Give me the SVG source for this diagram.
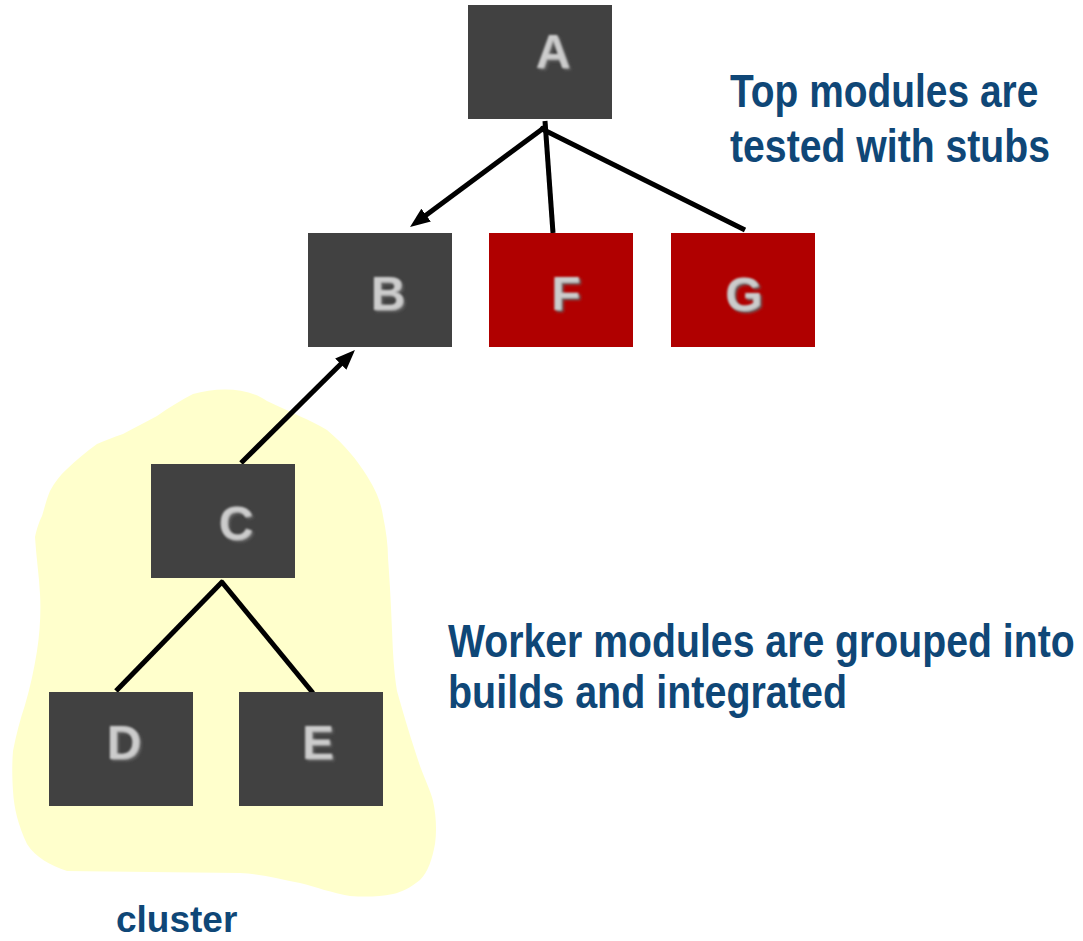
<svg xmlns="http://www.w3.org/2000/svg" width="1083" height="941" viewBox="0 0 1083 941">
  <style>
    .box { fill: #414141; }
    .stub { fill: #b00000; }
    .lbl { font-family: "Liberation Sans", Arial, sans-serif; font-weight: bold; font-size: 48px; fill: #cccccc; text-anchor: middle; filter: url(#soft); }
    .note { font-family: "Liberation Sans", Arial, sans-serif; font-weight: bold; font-size: 46px; fill: #0f4777; }
    .edge { stroke: #000; stroke-width: 5; fill: none; }
  </style>
  <defs>
    <filter id="soft" x="-30%" y="-30%" width="160%" height="160%">
      <feGaussianBlur in="SourceAlpha" stdDeviation="1.5" result="b"/>
      <feOffset in="b" dx="1.5" dy="2" result="o"/>
      <feFlood flood-color="#6a6a6a"/>
      <feComposite in2="o" operator="in" result="sh"/>
      <feGaussianBlur in="SourceGraphic" stdDeviation="0.8" result="g"/>
      <feMerge>
        <feMergeNode in="sh"/>
        <feMergeNode in="g"/>
      </feMerge>
    </filter>
    <marker id="arrow" viewBox="0 0 20 16" refX="4" refY="8" markerWidth="20" markerHeight="16" markerUnits="userSpaceOnUse" orient="auto">
      <path d="M0,0 L20,8 L0,16 Z" fill="#000"/>
    </marker>
  </defs>

  <!-- cluster outline behind the worker modules -->
  <path id="cluster-area" fill="#ffffcc" d="M193,394 C215,388 245,386 267,401 C290,412 310,420 327,430 C345,445 357,460 367,476 C377,492 381,503 383,516 C386,530 388,545 388,558 C390,585 391,605 392,630 C393,655 394,672 397,691 C405,720 413,745 420,766 C426,782 431,792 433,801 C436,815 437,830 435,844 C432,860 428,872 420,880 C410,888 402,892 393,894 C378,897 365,897 350,896 C332,893 316,887 300,883 C280,879 262,874 240,873 C180,872 120,872 67,871 C50,865 36,858 27,844 C18,825 14,808 13,791 C12,776 12,764 13,751 C16,735 20,720 25,705 C30,688 34,670 37,651 C40,632 41,612 40,594 C39,575 36,555 35,537 C37,528 39,522 42,516 C45,506 47,498 50,491 C55,482 60,475 67,469 C76,460 86,452 97,444 C106,440 114,437 123,434 C134,428 146,422 157,416 C170,407 181,400 193,394 Z"/>

  <!-- connectors -->
  <g id="connectors">
    <line class="edge" x1="545" y1="127" x2="422.9" y2="217.5" marker-end="url(#arrow)"/>
    <line class="edge" x1="545" y1="121" x2="553" y2="233"/>
    <line class="edge" x1="540" y1="128" x2="745" y2="230"/>
    <line class="edge" x1="241" y1="463" x2="343.6" y2="361.3" marker-end="url(#arrow)"/>
    <line class="edge" x1="223" y1="581" x2="116" y2="691"/>
    <line class="edge" x1="221" y1="581" x2="313" y2="693"/>
  </g>

  <!-- modules -->
  <g id="node-A">
    <rect class="box" x="468" y="5" width="144" height="114"/>
    <text class="lbl" x="553" y="68">A</text>
  </g>
  <g id="node-B">
    <rect class="box" x="308" y="233" width="144" height="114"/>
    <text class="lbl" x="388" y="310">B</text>
  </g>
  <g id="node-F">
    <rect class="stub" x="489" y="233" width="144" height="114"/>
    <text class="lbl" x="566" y="310">F</text>
  </g>
  <g id="node-G">
    <rect class="stub" x="671" y="233" width="144" height="114"/>
    <text class="lbl" x="744" y="311">G</text>
  </g>
  <g id="node-C">
    <rect class="box" x="151" y="464" width="144" height="114"/>
    <text class="lbl" x="236" y="540">C</text>
  </g>
  <g id="node-D">
    <rect class="box" x="49" y="692" width="144" height="114"/>
    <text class="lbl" x="124" y="759">D</text>
  </g>
  <g id="node-E">
    <rect class="box" x="239" y="692" width="144" height="114"/>
    <text class="lbl" x="318" y="759">E</text>
  </g>

  <!-- annotations, set in a condensed bold face -->
  <g id="notes">
    <text class="note" transform="translate(730,107) scale(0.84,1)" x="0" y="0" textLength="367" lengthAdjust="spacingAndGlyphs">Top modules are</text>
    <text class="note" transform="translate(730,162) scale(0.84,1)" x="0" y="0" textLength="381" lengthAdjust="spacingAndGlyphs">tested with stubs</text>
    <text class="note" transform="translate(448,657) scale(0.84,1)" x="0" y="0" textLength="746" lengthAdjust="spacingAndGlyphs">Worker modules are grouped into</text>
    <text class="note" transform="translate(448,708) scale(0.84,1)" x="0" y="0" textLength="475" lengthAdjust="spacingAndGlyphs">builds and integrated</text>
    <text class="note" x="116" y="932" style="font-size:37px">cluster</text>
  </g>
</svg>
